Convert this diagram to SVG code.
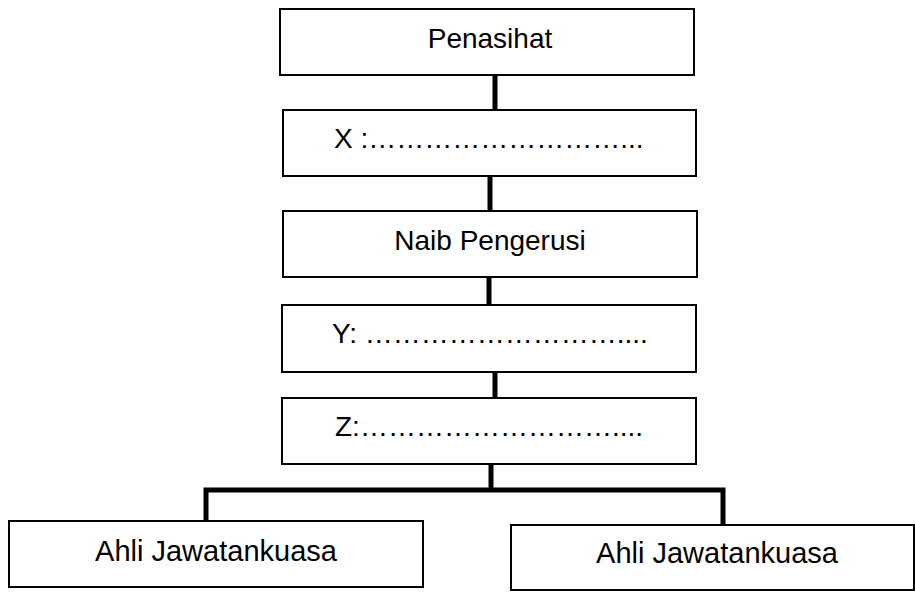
<svg xmlns="http://www.w3.org/2000/svg" width="915" height="592" viewBox="0 0 915 592">
<style>
.box{fill:#fff;stroke:#000;stroke-width:2}
.lbl{font-family:"Liberation Sans",Arial,sans-serif;font-size:28px;fill:#000}
.big{font-size:29px}
.c{text-anchor:middle}
.con{stroke:#000;stroke-width:5;fill:none;stroke-linecap:butt}
</style>
<rect width="915" height="592" fill="#fff"/>
<g id="connectors">
<line class="con" x1="495" y1="75" x2="495" y2="110"/>
<line class="con" x1="490" y1="176" x2="490" y2="211"/>
<line class="con" x1="489" y1="277" x2="489" y2="305"/>
<line class="con" x1="495" y1="372" x2="495" y2="398"/>
<line class="con" x1="491" y1="464" x2="491" y2="490"/>
<polyline class="con" points="206,521 206,490 723,490 723,525"/>
</g>
<g id="penasihat">
<rect class="box" x="280" y="9" width="414" height="66"/>
<text class="lbl c" x="490" y="48">Penasihat</text>
</g>
<g id="x">
<rect class="box" x="283" y="110" width="413" height="66"/>
<text class="lbl" x="334" y="148">X :………………………...</text>
</g>
<g id="naib">
<rect class="box" x="283" y="211" width="414" height="66"/>
<text class="lbl c" x="490" y="250">Naib Pengerusi</text>
</g>
<g id="y">
<rect class="box" x="282" y="305" width="414" height="67"/>
<text class="lbl" x="332" y="343">Y: ………………………....</text>
</g>
<g id="z">
<rect class="box" x="282" y="398" width="414" height="66"/>
<text class="lbl" x="335" y="436">Z:………………………....</text>
</g>
<g id="ahli1">
<rect class="box" x="9" y="521" width="414" height="66"/>
<text class="lbl big c" x="216" y="561">Ahli Jawatankuasa</text>
</g>
<g id="ahli2">
<rect class="box" x="511" y="525" width="403" height="65"/>
<text class="lbl big c" x="717" y="563">Ahli Jawatankuasa</text>
</g>
</svg>
